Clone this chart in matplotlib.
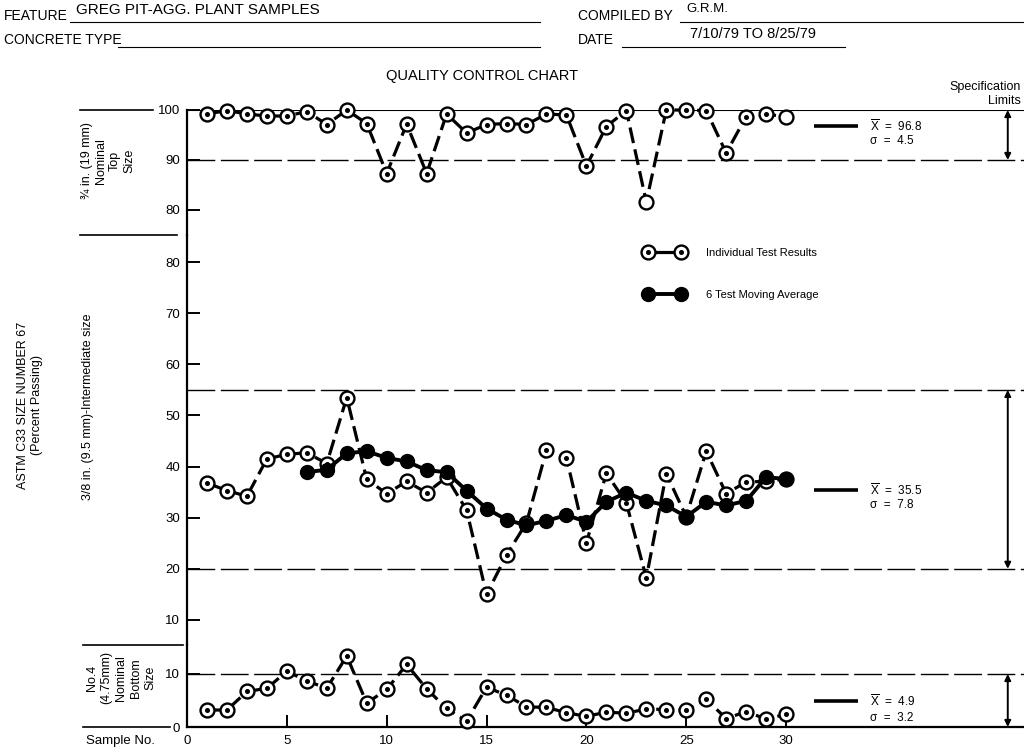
import numpy as np
import matplotlib
matplotlib.use('Agg')
import matplotlib.pyplot as plt
from matplotlib.lines import Line2D
from matplotlib.legend_handler import HandlerTuple

plt.rcParams['font.family'] = ['Liberation Sans', 'DejaVu Sans']
plt.rcParams['mathtext.fontset'] = 'custom'
plt.rcParams['mathtext.rm'] = 'Liberation Sans'

# ---- data ----
samples = np.arange(1, 31)

top_vals = [99.2, 99.9, 99.2, 98.8, 98.8, 99.7, 97.1, 100.0, 97.3, 87.3,
            97.2, 87.3, 99.2, 95.4, 97.1, 97.3, 97.1, 99.2, 99.0, 88.8,
            96.7, 99.9, 81.6, 100.0, 100.0, 99.9, 91.4, 98.7, 99.2, 98.6]
top_nodot = [23, 30]

mid_vals = [36.8, 35.3, 34.2, 41.5, 42.4, 42.7, 40.6, 53.5, 37.5, 34.7,
            37.1, 34.9, 37.9, 31.5, 15.0, 22.7, 29.0, 43.2, 41.7, 25.1,
            38.7, 32.9, 18.2, 38.6, 30.2, 43.0, 34.7, 37.0, 37.1, 37.6]

ma_samples = np.arange(6, 31)
ma_vals = [38.9, 39.4, 42.6, 43.0, 41.7, 41.0, 39.3, 38.9, 35.3, 31.8,
           29.6, 28.5, 29.4, 30.5, 29.2, 33.1, 34.9, 33.3, 32.4, 30.2,
           33.1, 32.4, 33.3, 37.9, 37.6]

bot_vals = [3.2, 3.2, 6.7, 7.3, 10.5, 8.7, 7.3, 13.4, 4.5, 7.1,
            11.8, 7.2, 3.5, 1.1, 7.5, 6.0, 3.8, 3.7, 2.7, 2.0,
            2.8, 2.6, 3.4, 3.3, 3.2, 5.2, 1.6, 2.9, 1.5, 2.4]

top_spec = (90, 100)
mid_spec = (20, 55)
bot_spec = (0, 10)
top_stats = (96.8, '4.5')
mid_stats = (35.5, '7.8')
bot_stats = (4.9, '3.2')

# ---- figure layout (pixel helpers) ----
W, H = 1024, 749
fig = plt.figure(figsize=(W / 100, H / 100), dpi=100)


def fx(x):
    return x / W


def fy(y):
    return 1 - y / H


X0, X1 = 187, 1024
xmax = (X1 - X0) / 19.97


def make_ax(ytop, ybot, ylim, yticks):
    ax = fig.add_axes([fx(X0), fy(ybot), (X1 - X0) / W, (ybot - ytop) / H])
    ax.set_xlim(0, xmax)
    ax.set_ylim(*ylim)
    for s in ['top', 'right', 'bottom']:
        ax.spines[s].set_visible(False)
    ax.spines['left'].set_linewidth(1.6)
    ax.set_yticks(yticks)
    ax.tick_params(axis='y', direction='in', length=9, width=1.4, pad=5, labelsize=9.5)
    ax.tick_params(axis='x', bottom=False, labelbottom=False)
    ax.patch.set_alpha(0)
    return ax


ax_top = make_ax(110, 235, (75, 100), [80, 90, 100])
ax_mid = make_ax(235, 645, (5.1, 85.3), list(range(10, 81, 10)))
ax_bot = make_ax(645, 727, (0, 15.47), [0, 10])

ax_bot.spines['bottom'].set_visible(True)
ax_bot.spines['bottom'].set_linewidth(1.6)
ax_bot.set_xticks(range(0, 31, 5))
ax_bot.tick_params(axis='x', bottom=True, labelbottom=True, direction='in',
                   length=9, width=1.4, pad=6, labelsize=9.5)


def draw_individual(ax, vals, nodot=()):
    vals = np.array(vals)
    ax.plot(samples, vals, color='k', lw=2.3, ls=(0, (5, 2)), marker='o', ms=10,
            mfc='white', mec='k', mew=1.7, clip_on=False, zorder=3)
    keep = np.array([s not in nodot for s in samples])
    ax.plot(samples[keep], vals[keep], ls='none', marker='o', ms=2.6, color='k',
            clip_on=False, zorder=4)


def draw_spec(ax, lo, hi, solid_hi=False):
    for v in (lo, hi):
        if (v == hi and solid_hi):
            ax.axhline(v, color='k', lw=1.5, zorder=1)
        elif v != 0:
            ax.axhline(v, color='k', lw=1.0, ls=(0, (20, 4)), zorder=1)
    ax.annotate('', xy=(41.1, hi), xytext=(41.1, lo), annotation_clip=False,
                arrowprops=dict(arrowstyle='<|-|>', color='k', lw=1.4,
                                mutation_scale=9, shrinkA=0, shrinkB=0))


def draw_stats(ax, mean, sd, dy):
    ax.plot([31.4, 33.6], [mean, mean], color='k', lw=2.6, solid_capstyle='butt')
    ax.text(34.2, mean, r'$\overline{\mathrm{X}}$  =  %.1f' % mean, va='center', fontsize=8.5)
    ax.annotate('σ  =  ' + sd, xy=(34.2, mean), xytext=(0, -dy), textcoords='offset points',
                va='center', fontsize=8.5)


draw_spec(ax_top, *top_spec, solid_hi=True)
draw_spec(ax_mid, *mid_spec)
draw_spec(ax_bot, *bot_spec)

draw_individual(ax_top, top_vals, top_nodot)
draw_individual(ax_mid, mid_vals)
ax_mid.plot(ma_samples, ma_vals, color='k', lw=2.8, marker='o', ms=10, mfc='k',
            mec='k', clip_on=False, zorder=5)
draw_individual(ax_bot, bot_vals)

draw_stats(ax_top, top_stats[0], top_stats[1], 11)
draw_stats(ax_mid, mid_stats[0], mid_stats[1], 11)
draw_stats(ax_bot, bot_stats[0], bot_stats[1], 12)

# legend
h_ind = (Line2D([], [], color='k', lw=2.3, marker='o', ms=10, mfc='white', mec='k', mew=1.7),
         Line2D([], [], ls='none', marker='o', ms=2.6, color='k'))
h_ma = Line2D([], [], color='k', lw=2.8, marker='o', ms=10, mfc='k', mec='k')
fig.legend([h_ind, h_ma], ['Individual Test Results', '6 Test Moving Average'],
           handler_map={tuple: HandlerTuple(ndivide=1, pad=0)},
           loc='upper left', bbox_to_anchor=(fx(645), fy(248)), borderaxespad=0,
           borderpad=0, frameon=False, fontsize=8, handlelength=3.5,
           handletextpad=2.0, labelspacing=2.9, numpoints=2)

# ---- header ----
hdr = 10


def hline(xa, xb, y, lw=0.8):
    fig.add_artist(Line2D([fx(xa), fx(xb)], [fy(y), fy(y)], transform=fig.transFigure,
                          color='k', lw=lw))


fig.text(fx(4), fy(16), 'FEATURE', fontsize=hdr, va='center')
hline(70, 540, 22)
fig.text(fx(76), fy(10), 'GREG PIT-AGG. PLANT SAMPLES', fontsize=11, va='center')
fig.text(fx(4), fy(40), 'CONCRETE TYPE', fontsize=hdr, va='center')
hline(118, 540, 47)
fig.text(fx(578), fy(16), 'COMPILED BY', fontsize=hdr, va='center')
hline(680, 1024, 22)
fig.text(fx(686), fy(9), 'G.R.M.', fontsize=9.5, va='center')
fig.text(fx(578), fy(40), 'DATE', fontsize=hdr, va='center')
hline(622, 845, 47)
fig.text(fx(690), fy(34), '7/10/79 TO 8/25/79', fontsize=10.5, va='center')

fig.text(fx(482), fy(76), 'QUALITY CONTROL CHART', fontsize=10.5, ha='center', va='center')
fig.text(fx(1021), fy(94), 'Specification\nLimits', fontsize=9, ha='right', va='center',
         multialignment='right', linespacing=1.3)

# ---- left side labels ----
fig.text(fx(30), fy(405), 'ASTM C33 SIZE NUMBER 67\n(Percent Passing)', rotation=90,
         ha='center', va='center', multialignment='center', fontsize=9)
fig.text(fx(108), fy(161), '¾ in. (19 mm)\nNominal\nTop\nSize', rotation=90,
         ha='center', va='center', multialignment='center', fontsize=9, linespacing=1.25)
fig.text(fx(88), fy(407), '3/8 in. (9.5 mm)-Intermediate size', rotation=90,
         ha='center', va='center', fontsize=9)
fig.text(fx(121), fy(678), 'No.4\n(4.75mm)\nNominal\nBottom\nSize', rotation=90,
         ha='center', va='center', multialignment='center', fontsize=9, linespacing=1.3)
fig.text(fx(120), fy(741), 'Sample No.', ha='center', va='center', fontsize=9.5)

hline(80, 153, 110, 1.2)
hline(80, 177, 235, 1.2)
hline(83, 183, 645, 1.2)
hline(83, 170, 727, 1.2)

fig.savefig('out.png', dpi=100)
